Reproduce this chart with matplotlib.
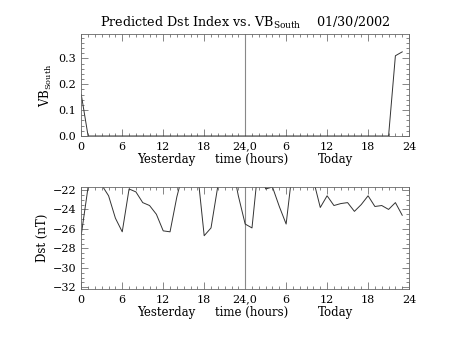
import matplotlib
matplotlib.use("Agg")
import matplotlib.pyplot as plt
from matplotlib.ticker import MultipleLocator, FixedLocator

hours = list(range(48))
vb_south = [0.16, 0.0, 0.0, 0.0, 0.0, 0.0, 0.0, 0.0, 0.0, 0.0, 0.0, 0.0,
            0.0, 0.0, 0.0, 0.0, 0.0, 0.0, 0.0, 0.0, 0.0, 0.0, 0.0, 0.0,
            0.0, 0.0, 0.0, 0.0, 0.0, 0.0, 0.0, 0.0, 0.0, 0.0, 0.0, 0.0,
            0.0, 0.0, 0.0, 0.0, 0.0, 0.0, 0.0, 0.0, 0.0, 0.0, 0.31, 0.325]
dst = [-26.6, -21.7, -20.5, -21.5, -22.6, -24.9, -26.3, -21.9, -22.2, -23.3, -23.6, -24.5,
       -26.2, -26.3, -22.7, -20.0, -20.0, -20.0, -26.7, -25.9, -21.6, -20.5, -19.1, -22.6,
       -25.5, -25.9, -19.0, -21.9, -21.7, -23.7, -25.5, -19.5, -20.0, -20.0, -21.0, -23.8,
       -22.6, -23.6, -23.4, -23.3, -24.2, -23.5, -22.6, -23.7, -23.6, -24.0, -23.3, -24.6]
xtick_pos = [0, 6, 12, 18, 24, 30, 36, 42, 48]
xtick_labels = ["0", "6", "12", "18", "24,0", "6", "12", "18", "24"]
title = r"Predicted Dst Index vs. VB$_{\mathregular{South}}$    01/30/2002"

plt.rcParams['font.family'] = ['DejaVu Serif']
plt.rcParams['mathtext.fontset'] = 'dejavuserif'
fig = plt.figure(figsize=(4.54, 3.41), dpi=100)
ax1 = fig.add_axes([0.179, 0.6012, 0.722, 0.2991])
ax2 = fig.add_axes([0.179, 0.1525, 0.722, 0.2982])

lc = '#333333'
for ax in (ax1, ax2):
    ax.set_xlim(0, 48)
    ax.xaxis.set_major_locator(FixedLocator(xtick_pos))
    ax.set_xticklabels(xtick_labels)
    ax.xaxis.set_minor_locator(MultipleLocator(1))
    ax.tick_params(which='both', direction='in', top=True, right=True, labelsize=8,
                   color='#555555', width=0.5)
    ax.tick_params(which='major', length=5)
    ax.tick_params(which='minor', length=2.5)
    ax.tick_params(axis='x', pad=4)
    for s in ax.spines.values():
        s.set_linewidth(0.6)
        s.set_color('#666666')
    ax.axvline(24, color='#888888', lw=0.8)
    ax.text(12.4, -0.165, "Yesterday", transform=ax.get_xaxis_transform(), ha='center', va='top', fontsize=8.5)
    ax.text(25.0, -0.165, "time (hours)", transform=ax.get_xaxis_transform(), ha='center', va='top', fontsize=8.5)
    ax.text(37.2, -0.165, "Today", transform=ax.get_xaxis_transform(), ha='center', va='top', fontsize=8.5)

ax1.plot(hours, vb_south, color=lc, lw=0.7, clip_on=True)
ax1.set_ylim(0, 0.394)
ax1.set_yticks([0.0, 0.1, 0.2, 0.3])
ax1.yaxis.set_minor_locator(MultipleLocator(0.02))
ax1.set_yticklabels(["0.0", "0.1", "0.2", "0.3"])
ax1.set_ylabel(r"VB$_{\mathregular{South}}$", fontsize=8.5, labelpad=3)
ax1.set_title(title, fontsize=9.2, pad=5)

ax2.plot(hours, dst, color=lc, lw=0.7, clip_on=True)
ax2.set_ylim(-32.17, -21.73)
ax2.set_yticks([-32, -30, -28, -26, -24, -22])
ax2.yaxis.set_minor_locator(MultipleLocator(0.5))
ax2.set_yticklabels(["\u221232", "\u221230", "\u221228", "\u221226", "\u221224", "\u221222"])
ax2.set_ylabel("Dst (nT)", fontsize=8.5, labelpad=3)

fig.savefig("out.png", dpi=100)
